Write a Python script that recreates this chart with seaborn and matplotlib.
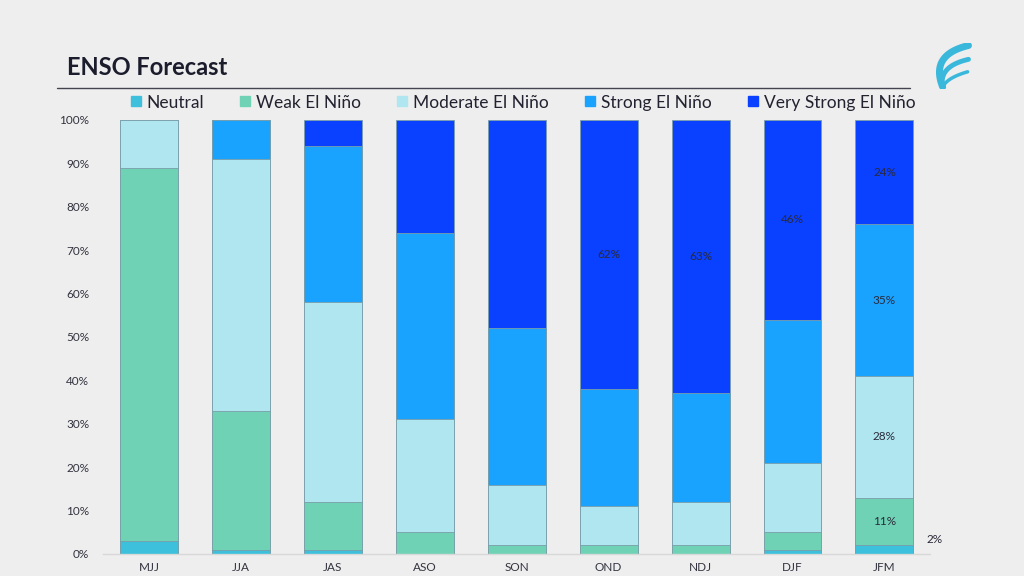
import numpy as np
import pandas as pd
import matplotlib
matplotlib.use("Agg")
import matplotlib.pyplot as plt
from matplotlib.lines import Line2D
import seaborn as sns

# Data (percent of forecast probability per season)
seasons = ["MJJ", "JJA", "JAS", "ASO", "SON", "OND", "NDJ", "DJF", "JFM"]
neutral = [3, 1, 1, 0, 0, 0, 0, 1, 2]
weak = [86, 32, 11, 5, 2, 2, 2, 4, 11]
moderate = [11, 58, 46, 26, 14, 9, 10, 16, 28]
strong = [0, 9, 36, 43, 36, 27, 25, 33, 35]
very_strong = [0, 0, 6, 26, 48, 62, 63, 46, 24]

categories = ["Neutral", "Weak El Niño", "Moderate El Niño", "Strong El Niño", "Very Strong El Niño"]
colors = ["#3cc0dc", "#70d2b4", "#b0e6f0", "#1aa2ff", "#0a40ff"]

df = pd.DataFrame({
    "season": seasons,
    "Neutral": neutral,
    "Weak El Niño": weak,
    "Moderate El Niño": moderate,
    "Strong El Niño": strong,
    "Very Strong El Niño": very_strong,
})
cum = df[categories].cumsum(axis=1)

sns.set_style("white")
plt.rcParams["font.family"] = ["Lato", "DejaVu Sans"]

fig = plt.figure(figsize=(10.24, 5.76), dpi=100)
fig.patch.set_facecolor("#eeeeee")

ax = fig.add_axes([0.1006, 0.0382, 0.808, 0.7535])
ax.set_facecolor("none")

# stacked bars: draw cumulative totals from the top layer down
for cat, col in reversed(list(zip(categories, colors))):
    sns.barplot(x=df["season"], y=cum[cat], color=col, width=0.63,
                edgecolor="#7a9ea8", linewidth=0.6, saturation=1, ax=ax)

ax.set_xlim(-0.5, 8.5)
ax.set_ylim(0, 100)
ax.set_yticks(range(0, 101, 10))
ax.set_yticklabels([f"{v}%" for v in range(0, 101, 10)], fontsize=8.5, color="#333340")
ax.tick_params(axis="x", labelsize=8.5, labelcolor="#333340", length=0, pad=6)
ax.tick_params(axis="y", length=0, pad=10)
ax.set_xlabel("")
ax.set_ylabel("")
for s in ["top", "right", "left"]:
    ax.spines[s].set_visible(False)
ax.spines["bottom"].set_color("#d8d8d8")
ax.spines["bottom"].set_linewidth(1)

# value labels
def label(i, cat):
    lo = cum[cat][i] - df[cat][i]
    mid = lo + df[cat][i] / 2
    ax.text(i, mid, f"{df[cat][i]}%", ha="center", va="center",
            fontsize=8.5, color="#2a2a3a")

label(5, "Very Strong El Niño")
label(6, "Very Strong El Niño")
label(7, "Very Strong El Niño")
for cat in ["Very Strong El Niño", "Strong El Niño", "Moderate El Niño", "Weak El Niño"]:
    label(8, cat)
ax.text(8.55, 3.3, f"{neutral[8]}%", ha="center", va="center", fontsize=8.5,
        color="#2a2a3a", clip_on=False)

# title and rule
fig.text(0.065, 0.882, "ENSO Forecast", fontsize=17, fontweight="bold",
         color="#1b1c2c", ha="left", va="center")
fig.add_artist(Line2D([0.056, 0.889], [0.847, 0.847], color="#444450", linewidth=1))

# legend
handles = [Line2D([], [], marker="s", linestyle="", markersize=7,
                  markerfacecolor=c, markeredgecolor=c) for c in colors]
fig.legend(handles, categories, loc="center", bbox_to_anchor=(0.508, 0.822),
           ncol=5, frameon=False, fontsize=12.5, handletextpad=0.0,
           handlelength=1.2, columnspacing=1.8, labelcolor="#222230")

# logo swoosh
lax = fig.add_axes([0.908, 0.845, 0.042, 0.08])
lax.set_axis_off()
lax.set_xlim(0, 1)
lax.set_ylim(0, 1)
t = np.linspace(0, 1, 60)
p0 = np.array([0.3, 0.05])
for ctrl, end, w in [((0.0, 0.75), (0.9, 0.95), 5.0),
                     ((0.2, 0.5), (0.9, 0.65), 3.5),
                     ((0.4, 0.25), (0.88, 0.38), 2.5)]:
    c = np.array(ctrl)
    e = np.array(end)
    pts = ((1 - t) ** 2)[:, None] * p0 + (2 * t * (1 - t))[:, None] * c + (t ** 2)[:, None] * e
    lax.plot(pts[:, 0], pts[:, 1], color="#3ab8dc", linewidth=w, solid_capstyle="round")

fig.savefig("out.png", dpi=100, facecolor=fig.get_facecolor())
